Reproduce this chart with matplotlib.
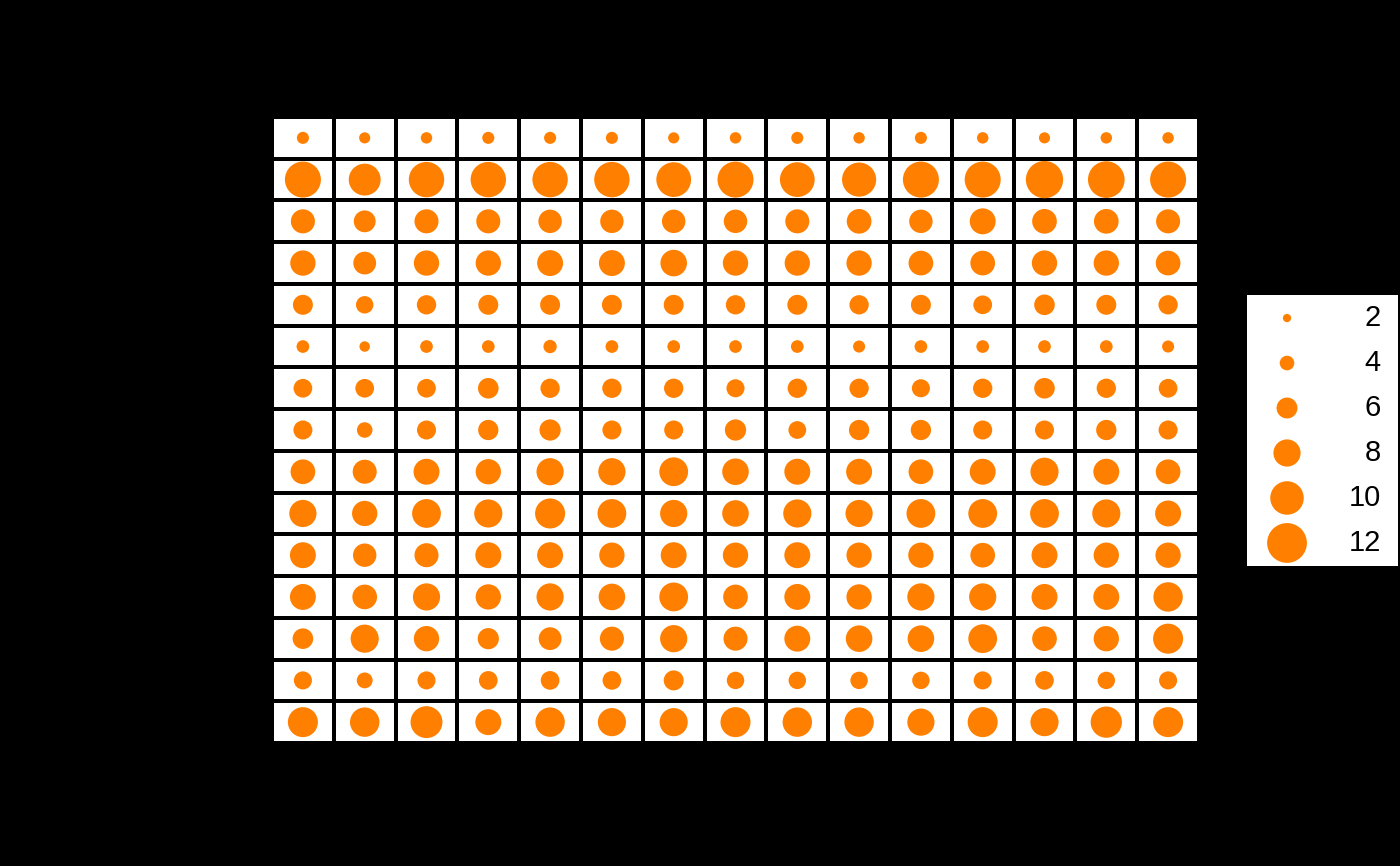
import matplotlib
matplotlib.use('agg')
import matplotlib.pyplot as plt
import numpy as np

# circle values, top row first, 15 columns each
row01 = [3.2, 2.9, 3.0, 3.2, 3.2, 3.2, 2.9, 3.0, 3.2, 3.0, 3.2, 3.0, 2.9, 3.0, 3.0]
row02 = [10.8, 9.5, 10.6, 10.6, 10.6, 10.6, 10.4, 10.8, 10.4, 10.2, 10.8, 10.8, 11.2, 11.0, 10.8]
row03 = [7.0, 6.3, 7.0, 7.0, 6.8, 6.8, 6.8, 6.8, 7.0, 7.2, 6.8, 7.6, 7.2, 7.2, 7.0]
row04 = [7.4, 6.6, 7.4, 7.4, 7.6, 7.6, 7.8, 7.4, 7.4, 7.4, 7.2, 7.2, 7.4, 7.4, 7.2]
row05 = [5.7, 4.9, 5.5, 5.7, 5.7, 5.7, 5.7, 5.5, 5.7, 5.5, 5.7, 5.3, 5.9, 5.7, 5.5]
row06 = [3.4, 2.7, 3.4, 3.4, 3.6, 3.4, 3.4, 3.4, 3.4, 3.2, 3.4, 3.4, 3.4, 3.4, 3.2]
row07 = [5.3, 5.3, 5.3, 5.9, 5.5, 5.5, 5.5, 5.1, 5.5, 5.5, 5.1, 5.5, 5.9, 5.5, 5.3]
row08 = [5.4, 4.3, 5.4, 5.8, 6.1, 5.4, 5.4, 6.1, 5.0, 5.8, 5.8, 5.4, 5.4, 5.8, 5.4]
row09 = [7.2, 7.0, 7.6, 7.4, 8.0, 8.0, 8.5, 7.8, 7.6, 7.6, 7.2, 7.6, 8.3, 7.6, 7.2]
row10 = [8.0, 7.4, 8.5, 8.3, 8.9, 8.5, 8.0, 7.8, 8.3, 8.0, 8.5, 8.5, 8.5, 8.3, 7.6]
row11 = [7.6, 6.8, 7.0, 7.6, 7.6, 7.4, 7.6, 7.4, 7.6, 7.4, 7.4, 7.2, 7.6, 7.4, 7.4]
row12 = [7.6, 7.2, 8.0, 7.4, 8.0, 7.8, 8.5, 7.2, 7.6, 7.4, 8.0, 8.0, 7.6, 7.6, 8.7]
row13 = [5.9, 8.3, 7.4, 6.1, 6.6, 7.0, 8.0, 7.0, 7.6, 7.8, 7.8, 8.5, 7.2, 7.4, 8.9]
row14 = [5.1, 4.4, 5.1, 5.3, 5.3, 5.3, 5.7, 4.9, 4.9, 4.9, 4.9, 5.1, 5.3, 4.9, 5.1]
row15 = [8.9, 8.7, 9.5, 7.6, 8.7, 8.3, 8.3, 8.9, 8.7, 8.7, 8.0, 8.9, 8.3, 9.3, 8.9]

legend_values = [2, 4, 6, 8, 10, 12]

orange = '#FF8000'
plt.rcParams['font.family'] = ['Liberation Sans', 'DejaVu Sans']


def marker_area(v):
    # diameter grows linearly with value (pixels at 100 dpi -> points)
    d = (3.15 * np.asarray(v, dtype=float) + 2) * 0.72
    return d ** 2


values = np.array([row01, row02, row03, row04, row05, row06, row07, row08,
                   row09, row10, row11, row12, row13, row14, row15])
nrow, ncol = values.shape

fig = plt.figure(figsize=(14, 8.66), dpi=100)
fig.patch.set_facecolor('black')

ax = fig.add_axes([272 / 1400, 1 - 743 / 866, 927 / 1400, 626 / 866])
ax.set_facecolor('black')
ax.pcolormesh(np.arange(ncol + 1) - 0.5, np.arange(nrow + 1) - 0.5,
              np.zeros((nrow, ncol)), cmap='Greys', vmin=0, vmax=1,
              edgecolors='black', linewidth=1.5)

xx, yy = np.meshgrid(np.arange(ncol), np.arange(nrow))
ax.scatter(xx.ravel(), yy.ravel(), s=marker_area(values.ravel()),
           color=orange, edgecolors='none', zorder=3)
ax.set_xlim(-0.5, ncol - 0.5)
ax.set_ylim(nrow - 0.5, -0.5)
ax.set_xticks([])
ax.set_yticks([])
for sp in ax.spines.values():
    sp.set_visible(False)

# size legend
lax = fig.add_axes([1247 / 1400, 1 - 566 / 866, 151 / 1400, 271 / 866])
lax.set_facecolor('white')
ly = np.linspace(0.915, 0.085, len(legend_values))
lax.scatter([0.265] * len(legend_values), ly, s=marker_area(legend_values),
            color=orange, edgecolors='none')
for v, y in zip(legend_values, ly):
    lax.text(0.885, y, str(v), ha='right', va='center', fontsize=21, color='black')
lax.set_xlim(0, 1)
lax.set_ylim(0, 1)
lax.set_xticks([])
lax.set_yticks([])
for sp in lax.spines.values():
    sp.set_visible(False)

plt.savefig('out.png', dpi=100, facecolor='black')
plt.close()
